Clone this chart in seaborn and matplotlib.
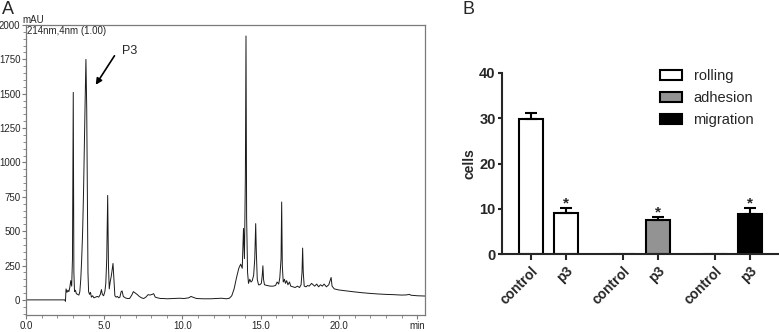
import numpy as np
import pandas as pd
import seaborn as sns
import matplotlib
matplotlib.use("Agg")
import matplotlib.pyplot as plt
from matplotlib.patches import Patch
from matplotlib.ticker import MultipleLocator

# --- panel A: HPLC trace, 214 nm ---
rt_min = [0.0, 2.48, 2.52, 2.56, 2.62, 2.68, 2.74, 2.80, 2.86, 2.92, 2.97, 3.02, 3.06, 3.10,
          3.16, 3.22, 3.30, 3.38, 3.44, 3.50, 3.56, 3.62, 3.68, 3.74, 3.78, 3.83, 3.88, 3.92,
          3.96, 4.00, 4.06, 4.12, 4.18, 4.26, 4.34, 4.45, 4.55, 4.65, 4.75, 4.82, 4.88, 4.96,
          5.04, 5.10, 5.16, 5.22, 5.27, 5.32, 5.38, 5.46, 5.56, 5.62, 5.68, 5.76, 5.84, 5.92,
          6.00, 6.08, 6.14, 6.22, 6.34, 6.48, 6.62, 6.76, 6.86, 6.98, 7.10, 7.24, 7.38, 7.52,
          7.66, 7.80, 7.92, 8.06, 8.16, 8.26, 8.40, 8.60, 8.80, 9.00, 9.40, 9.80, 10.10, 10.40,
          10.55, 10.70, 10.90, 11.30, 11.80, 12.20, 12.50, 12.80, 13.00, 13.15, 13.30, 13.45,
          13.60, 13.72, 13.82, 13.90, 13.96, 14.02, 14.06, 14.10, 14.16, 14.22, 14.30, 14.38,
          14.46, 14.55, 14.62, 14.68, 14.72, 14.78, 14.86, 14.94, 15.04, 15.10, 15.14, 15.18,
          15.24, 15.40, 15.60, 15.80, 15.95, 16.05, 16.15, 16.22, 16.30, 16.34, 16.38, 16.44,
          16.52, 16.58, 16.66, 16.74, 16.84, 16.92, 17.05, 17.20, 17.35, 17.48, 17.58, 17.64,
          17.68, 17.72, 17.78, 17.90, 18.00, 18.10, 18.25, 18.35, 18.45, 18.58, 18.70, 18.82,
          18.94, 19.05, 19.20, 19.35, 19.46, 19.50, 19.56, 19.70, 20.00, 20.50, 21.00, 21.50,
          22.00, 22.50, 23.00, 23.50, 24.00, 24.30, 24.50, 24.60, 25.00, 25.50]
signal_mau = [0, 0, -10, 80, 55, 70, 60, 90, 140, 100, 300, 1510, 200, 60,
              70, 45, 40, 35, 60, 150, 300, 500, 800, 1200, 1450, 1750, 1400, 800,
              200, 60, 40, 55, 20, 30, 15, 20, 25, 20, 40, 75, 40, 30,
              60, 120, 300, 760, 250, 80, 130, 180, 265, 150, 30, 20, 25, 15,
              20, 60, 65, 25, 15, 10, 10, 35, 60, 50, 40, 25, 15, 10,
              20, 38, 35, 40, 45, 20, 15, 10, 10, 8, 10, 12, 10, 15,
              25, 18, 10, 8, 8, 10, 12, 8, 12, 30, 80, 160,
              230, 260, 230, 520, 300, 900, 1920, 600, 200, 120, 150, 130,
              140, 180, 300, 555, 350, 150, 110, 110, 120, 180, 248, 150,
              110, 105, 100, 100, 105, 130, 115, 160, 300, 712, 250, 130,
              150, 120, 140, 110, 130, 100, 95, 90, 100, 90, 110, 200,
              377, 200, 100, 95, 105, 100, 120, 110, 100, 115, 95, 110,
              100, 115, 95, 110, 150, 163, 100, 80, 72, 65, 58, 52,
              47, 43, 40, 38, 35, 36, 40, 34, 30, 28]

x_tick_vals = [0, 5, 10, 15, 20, 25]
x_tick_text = ["0.0", "5.0", "10.0", "15.0", "20.0", "min"]

# --- panel B: cell counts ---
activity = ["rolling", "rolling", "adhesion", "adhesion", "migration", "migration"]
condition = ["control", "p3", "control", "p3", "control", "p3"]
cells_mean = [29.7, 9.0, 0.0, 7.6, 0.0, 8.9]
cells_sem = [1.5, 1.3, 0.0, 0.6, 0.0, 1.3]
significant = [False, True, False, True, False, True]
activity_colors = {"rolling": "white", "adhesion": "#939393", "migration": "black"}

sns.set_style("ticks")
plt.rcParams["font.family"] = ["Liberation Sans", "DejaVu Sans"]

fig = plt.figure(figsize=(7.79, 3.32), dpi=100)
W, H = 779, 332


def px_axes(x0, y0, x1, y1):
    return fig.add_axes([x0 / W, 1 - y1 / H, (x1 - x0) / W, (y1 - y0) / H])


# ---------------- A ----------------
ax = px_axes(26, 25, 425, 315)
trace = pd.DataFrame({"rt": rt_min, "mau": signal_mau})
sns.lineplot(data=trace, x="rt", y="mau", ax=ax, color="#1a1a1a", lw=0.7,
             estimator=None, errorbar=None)
ax.set_xlim(0, 25.5)
ax.set_ylim(-110, 2000)
ax.set_xlabel("")
ax.set_ylabel("")
ax.set_xticks(x_tick_vals)
ax.set_xticklabels(x_tick_text)
ax.set_yticks(range(0, 2001, 250))
ax.xaxis.set_minor_locator(MultipleLocator(1))
ax.yaxis.set_minor_locator(MultipleLocator(50))
for s in ax.spines.values():
    s.set_color("#7a7a7a")
    s.set_linewidth(0.9)
ax.tick_params(which="major", direction="out", length=3, width=0.8, color="#7a7a7a",
               labelsize=7, pad=1)
ax.tick_params(which="minor", direction="out", length=2, width=0.6, color="#7a7a7a")
ax.text(0.002, 0.997, "214nm,4nm (1.00)", transform=ax.transAxes, fontsize=7,
        ha="left", va="top")
fig.text(22 / W, 1 - 20 / H, "mAU", fontsize=7, ha="left", va="center")
fig.text(2 / W, 1 - 9 / H, "A", fontsize=13, ha="left", va="center")
ax.annotate("", xy=(4.36, 1548), xytext=(5.75, 1793),
            arrowprops=dict(arrowstyle="-|>", lw=1.2, color="black", mutation_scale=9))
ax.text(6.65, 1808, "P3", fontsize=9, ha="center", va="center")

# ---------------- B ----------------
bx = px_axes(502, 72.7, 778, 254.3)
pos = [g * 2.63 + c for g in range(3) for c in range(2)]
bars = pd.DataFrame({"pos": pos, "activity": activity, "condition": condition,
                     "cells": cells_mean, "sem": cells_sem})
sns.barplot(data=bars, x="pos", y="cells", hue="activity", native_scale=True,
            palette=activity_colors, hue_order=list(activity_colors), dodge=False,
            width=0.66, edgecolor="black", linewidth=1.5, errorbar=None,
            legend=False, ax=bx)
err = bars[bars["sem"] > 0]
bx.errorbar(err["pos"], err["cells"], yerr=[np.zeros(len(err)), err["sem"]], fmt="none",
            ecolor="black", elinewidth=1.5, capsize=4.5, capthick=1.5, zorder=1)
for p, m, s, sig in zip(pos, cells_mean, cells_sem, significant):
    if sig:
        bx.text(p, m + s + 0.1, "*", ha="center", va="baseline", fontsize=11,
                fontweight="bold")
bx.set_xlim(-0.83, pos[-1] + 0.8)
bx.set_ylim(0, 40)
bx.set_yticks([0, 10, 20, 30, 40])
bx.set_xticks(pos)
bx.set_xticklabels(condition, rotation=45, ha="right", rotation_mode="anchor",
                   fontweight="bold", fontsize=10)
for lab in bx.get_yticklabels():
    lab.set_fontweight("bold")
bx.set_xlabel("")
bx.set_ylabel("cells", fontweight="bold", fontsize=10, labelpad=2)
sns.despine(ax=bx)
bx.spines["left"].set_linewidth(1.5)
bx.spines["bottom"].set_linewidth(1.5)
bx.tick_params(axis="y", length=3, width=1.5, labelsize=10.5, pad=1.5)
bx.tick_params(axis="x", length=4, width=1.5, pad=3)

handles = [Patch(facecolor=c, edgecolor="black", linewidth=1.5, label=k)
           for k, c in activity_colors.items()]
fig.legend(handles=handles, loc="upper left", bbox_to_anchor=(660 / W, 1 - 69 / H),
           frameon=False, fontsize=10.5, handlelength=1.5, handleheight=0.72,
           handletextpad=0.8, labelspacing=0.55, borderpad=0, borderaxespad=0)
fig.text(463 / W, 1 - 9 / H, "B", fontsize=13, ha="left", va="center")

fig.savefig("out.png", dpi=100)
